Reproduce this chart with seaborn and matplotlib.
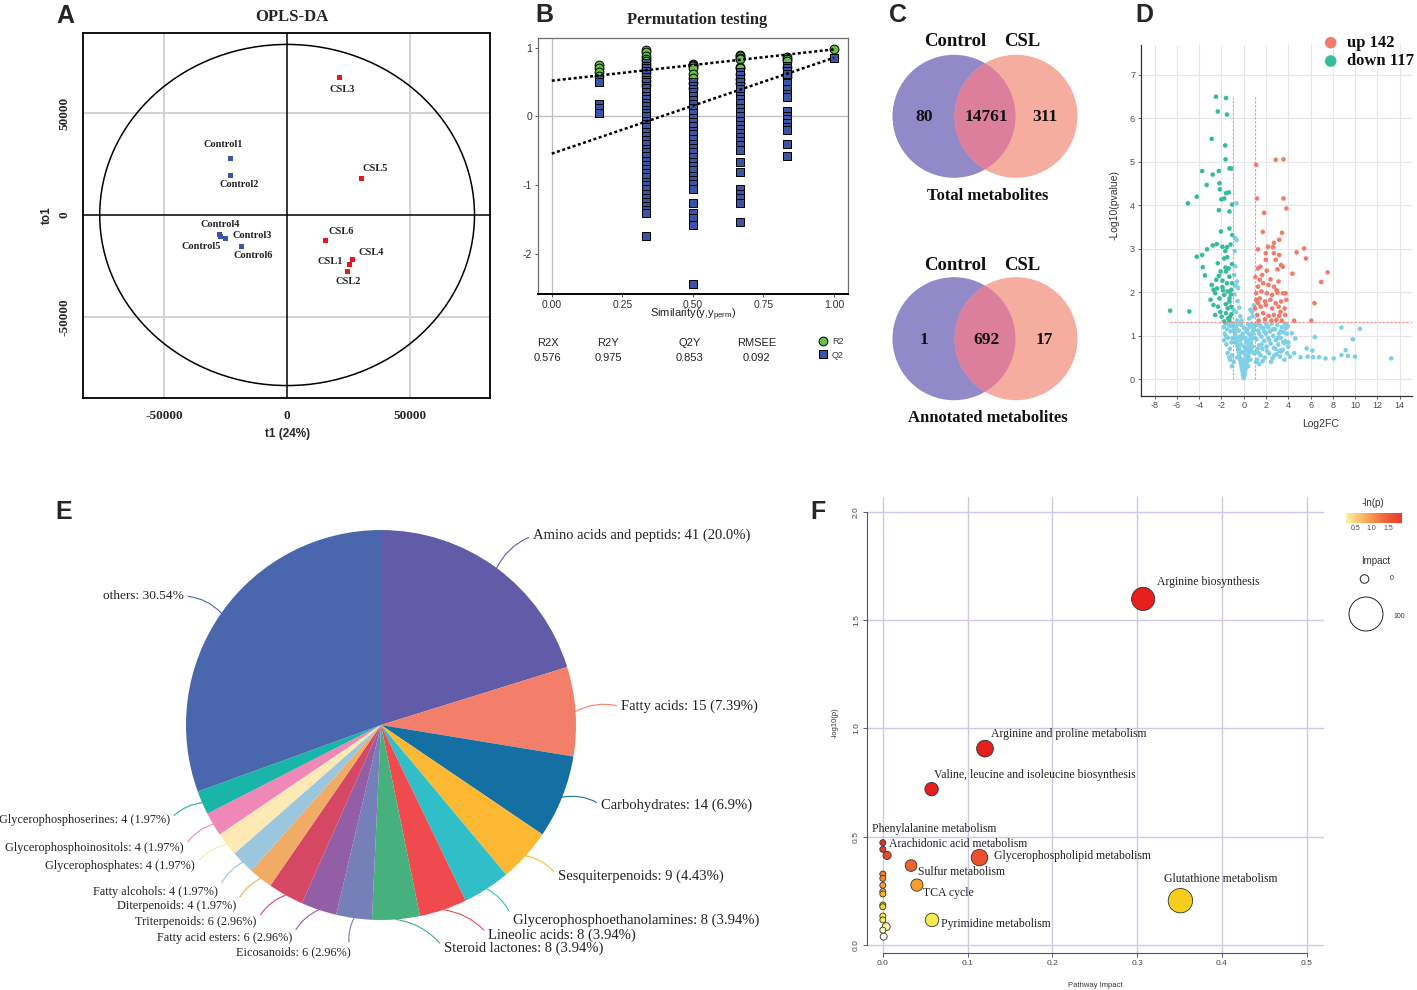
import numpy as np
import pandas as pd
import matplotlib
matplotlib.use("Agg")
import matplotlib.pyplot as plt
import seaborn as sns
from matplotlib.patches import Ellipse, Circle
from matplotlib.colors import LinearSegmentedColormap, Normalize

# ---------------- data ----------------
# A: OPLS-DA scores
opls_samples = ['Control1', 'Control2', 'Control3', 'Control4', 'Control5', 'Control6',
                'CSL1', 'CSL2', 'CSL3', 'CSL4', 'CSL5', 'CSL6']
opls_group = ['Control'] * 6 + ['CSL'] * 6
opls_t1 = [-23150, -22900, -24900, -27600, -26900, -18600,
           25300, 24500, 21500, 26650, 30300, 15500]
opls_to1 = [27500, 19300, -11400, -9550, -10700, -15650,
            -24400, -27700, 67400, -21600, 17950, -12350]
ellipse_semi = [76200, 83600]

# B: permutation test
perm_sim = [0.1667, 0.3333, 0.5, 0.6667, 0.8333, 1.0]
perm_r2 = [
    [0.75, 0.70, 0.64, 0.59],
    [0.96, 0.93, 0.88, 0.84, 0.80, 0.76, 0.72, 0.68, 0.63, 0.58, 0.52, 0.46],
    [0.77, 0.75, 0.73, 0.70, 0.62, 0.56, 0.49, 0.42],
    [0.90, 0.88, 0.85, 0.83, 0.72, 0.70, 0.62, 0.55, 0.48],
    [0.86, 0.84, 0.80, 0.72, 0.62, 0.58],
    [0.975],
]
perm_q2 = [
    [0.55, 0.50, 0.18, 0.12, 0.05],
    [0.78, 0.74, 0.71, 0.66, 0.62, 0.57, 0.53, 0.50, 0.45, 0.41, 0.36, 0.30, 0.25, 0.19,
     0.15, 0.09, 0.05, 0.0, -0.06, -0.11, -0.16, -0.22, -0.29, -0.34, -0.40, -0.47, -0.52,
     -0.58, -0.65, -0.70, -0.77, -0.82, -0.88, -0.95, -1.0, -1.06, -1.13, -1.18, -1.25,
     -1.30, -1.36, -1.41, -1.73],
    [0.50, 0.45, 0.40, 0.36, 0.30, 0.24, 0.18, 0.12, 0.05, -0.02, -0.08, -0.14, -0.21,
     -0.26, -0.33, -0.40, -0.46, -0.52, -0.59, -0.66, -0.72, -0.78, -0.86, -0.92, -0.98,
     -1.05, -1.26, -1.41, -1.47, -1.58, -2.43],
    [0.65, 0.60, 0.55, 0.50, 0.44, 0.40, 0.30, 0.25, 0.19, 0.13, 0.07, 0.0, -0.06, -0.12,
     -0.18, -0.24, -0.30, -0.36, -0.42, -0.48, -0.66, -0.80, -1.05, -1.12, -1.19, -1.26, -1.53],
    [0.74, 0.70, 0.66, 0.62, 0.48, 0.40, 0.33, 0.28, 0.08, 0.01, -0.04, -0.10, -0.15,
     -0.20, -0.40, -0.57],
    [0.853],
]
r2_intercept = 0.52
q2_intercept = -0.54
model_stats = ['R2X', 'R2Y', 'Q2Y', 'RMSEE']
model_values = ['0.576', '0.975', '0.853', '0.092']

# C: Venn counts (only Control, shared, only CSL)
venn_sets = ['Control', 'CSL']
venn_total = [80, 14761, 311]
venn_annot = [1, 692, 17]

# D: volcano
up_count = 142
down_count = 117
up_points = [
    (1.12, 4.93), (2.87, 5.05), (3.57, 5.06), (1.18, 4.16), (3.57, 4.16), (3.83, 3.93),
    (1.82, 3.83), (1.72, 3.39), (3.44, 3.37), (2.71, 3.14), (3.19, 3.21), (2.17, 3.05),
    (2.62, 3.04), (1.28, 2.99), (1.98, 2.90), (2.71, 2.90), (3.19, 2.86), (5.42, 3.01),
    (4.75, 2.92), (5.58, 2.78), (1.98, 2.75), (2.87, 2.75), (3.35, 2.63), (1.28, 2.55),
    (1.50, 2.59), (2.07, 2.50), (3.03, 2.53), (3.51, 2.59), (4.37, 2.43), (7.53, 2.46),
    (6.95, 2.24), (1.44, 2.29), (1.75, 2.21), (2.23, 2.17), (2.71, 2.13), (3.13, 2.25),
    (1.28, 2.13), (1.12, 1.98), (1.59, 2.02), (2.07, 1.98), (2.55, 1.94), (3.03, 1.99),
    (3.51, 1.98), (3.76, 1.98), (1.12, 1.83), (1.44, 1.86), (1.91, 1.79), (2.39, 1.83),
    (2.87, 1.75), (3.35, 1.79), (3.83, 1.83), (1.02, 1.63), (1.53, 1.67), (1.98, 1.71),
    (2.55, 1.63), (3.13, 1.67), (3.67, 1.63), (6.35, 1.75), (1.21, 1.48), (1.75, 1.52),
    (2.23, 1.46), (2.71, 1.48), (3.19, 1.46), (3.73, 1.48), (1.34, 1.35), (1.91, 1.38),
    (2.49, 1.35), (2.94, 1.37), (3.41, 1.35), (4.53, 1.35), (6.06, 1.35),
    (1.65, 2.40), (2.40, 2.30), (1.30, 1.75), (2.95, 2.05), (1.05, 2.35), (3.30, 1.55),
]
down_points = [
    (-2.49, 6.50), (-1.59, 6.47), (-2.33, 6.16), (-1.50, 6.09), (-2.87, 5.53), (-1.66, 5.38),
    (-1.63, 5.06), (-1.28, 4.85), (-1.12, 4.85), (-3.73, 4.79), (-2.78, 4.71), (-2.23, 4.79),
    (-3.32, 4.47), (-2.17, 4.51), (-2.14, 4.37), (-4.21, 4.20), (-5.01, 4.05), (-1.75, 4.16),
    (-2.01, 4.14), (-1.34, 4.30), (-1.59, 4.28), (-2.23, 3.89), (-1.05, 4.02), (-1.28, 3.86),
    (-1.28, 3.47), (-1.02, 3.32), (-2.42, 3.11), (-3.29, 2.99), (-2.78, 3.08), (-4.21, 2.82),
    (-3.73, 2.86), (-1.91, 3.05), (-1.50, 3.04), (-1.75, 2.78), (-1.47, 2.81), (-2.33, 2.67),
    (-1.63, 2.57), (-3.67, 2.58), (-3.48, 2.39), (-2.07, 2.48), (-1.59, 2.48), (-2.46, 2.29),
    (-2.23, 2.38), (-1.91, 2.27), (-1.28, 2.36), (-1.50, 2.21), (-1.02, 2.21), (-2.87, 2.17),
    (-2.71, 2.06), (-2.39, 2.09), (-1.91, 2.12), (-1.44, 2.02), (-1.12, 2.06), (-2.97, 1.83),
    (-2.55, 1.98), (-2.17, 1.86), (-1.75, 1.94), (-1.28, 1.86), (-2.71, 1.71), (-2.30, 1.67),
    (-1.59, 1.73), (-1.28, 1.79), (-1.44, 1.63), (-1.12, 1.67), (-2.55, 1.48), (-1.98, 1.44),
    (-1.59, 1.52), (-1.21, 1.44), (-6.60, 1.58), (-4.88, 1.56), (-1.75, 1.33), (-1.28, 1.35),
    (-1.15, 1.95), (-1.35, 2.55), (-1.05, 2.65), (-1.18, 3.10), (-2.05, 3.40), (-1.40, 1.40),
    (-2.10, 1.55), (-1.85, 2.05), (-1.10, 1.50), (-1.65, 2.95),
]
ns_points = [
    (0.00, 0.03), (0.05, 0.08), (-0.06, 0.10), (0.10, 0.14), (-0.10, 0.17), (0.14, 0.20),
    (-0.15, 0.24), (0.20, 0.27), (-0.20, 0.30), (0.25, 0.33), (-0.25, 0.37), (0.30, 0.40),
    (-0.30, 0.43), (0.35, 0.46), (-0.35, 0.50), (0.40, 0.52), (-0.40, 0.56), (0.45, 0.59),
    (-0.45, 0.62), (0.50, 0.65), (-0.50, 0.68), (0.55, 0.72), (-0.55, 0.75), (0.60, 0.78),
    (-0.60, 0.82), (0.65, 0.85), (-0.65, 0.88), (0.70, 0.92), (-0.70, 0.95), (0.75, 0.98),
    (-0.75, 1.02), (0.80, 1.05), (-0.80, 1.08), (0.85, 1.12), (-0.85, 1.15), (0.90, 1.18),
    (-0.90, 1.22), (0.95, 1.25), (-0.95, 1.28),
    (0.05, 0.30), (-0.05, 0.45), (0.15, 0.55), (-0.15, 0.62), (0.25, 0.70), (0.05, 0.75),
    (-0.25, 0.80), (0.35, 0.88), (0.15, 0.95), (-0.35, 0.98), (0.45, 1.05), (0.25, 1.10),
    (-0.45, 1.12), (0.55, 1.20), (0.05, 1.18), (-0.20, 1.25), (0.40, 1.27), (0.70, 1.28),
    (-0.55, 1.26), (0.20, 0.85), (-0.10, 1.05), (0.60, 1.00), (-0.70, 1.18),
    (0.30, 1.15), (0.50, 0.90), (0.80, 0.75), (1.00, 0.95), (0.90, 0.60), (1.10, 0.40),
    (0.60, 0.45), (0.40, 0.30), (-0.40, 0.70), (-0.60, 0.50), (-0.80, 0.85), (-1.00, 0.95),
    (-0.90, 0.40), (-0.30, 0.90), (0.10, 0.65), (-0.05, 0.95), (0.30, 0.50), (0.00, 0.25),
    (0.15, 0.38), (-0.15, 0.42), (0.45, 0.78), (0.70, 0.65),
    (1.05, 0.62), (1.15, 0.92), (1.22, 0.45), (1.30, 1.12), (1.38, 0.78), (1.45, 1.25),
    (1.52, 0.55), (1.60, 0.98), (1.68, 0.70), (1.75, 1.18), (1.82, 0.88), (1.90, 0.50),
    (1.98, 1.05), (2.05, 0.75), (2.12, 1.22), (2.20, 0.95), (2.28, 0.60), (2.35, 1.10),
    (2.42, 0.82), (2.50, 1.28), (2.58, 0.48), (2.65, 1.00), (2.72, 0.72), (2.80, 1.15),
    (2.88, 0.90), (2.95, 0.58), (3.02, 1.25), (3.10, 0.80), (3.18, 1.05), (3.26, 0.52),
    (3.34, 0.95), (3.42, 1.20), (3.50, 0.68), (3.58, 1.08), (3.66, 0.45), (3.74, 0.88),
    (3.82, 1.25), (3.90, 0.60), (1.10, 1.28), (1.40, 0.35), (1.70, 0.42), (2.00, 1.28),
    (2.45, 0.40), (1.25, 0.70), (1.55, 1.20),
    (1.20, 1.25), (1.35, 0.60), (1.60, 0.80), (1.85, 1.10), (2.10, 0.65), (2.30, 0.90),
    (2.60, 1.15), (2.85, 0.70), (3.05, 0.95), (3.30, 1.10), (3.55, 0.85), (3.70, 1.28),
    (1.40, 1.05), (2.20, 1.20), (2.75, 0.55), (3.20, 0.65), (3.85, 1.05), (4.00, 0.85),
    (3.95, 1.22),
    (-1.05, 0.55), (-1.10, 0.85), (-1.18, 1.10), (-1.25, 0.70), (-1.32, 1.25), (-1.40, 0.95),
    (-1.48, 1.15), (-1.55, 0.80), (-1.62, 1.28), (-1.70, 1.05), (-1.78, 1.20), (-1.05, 0.30),
    (-1.15, 1.22), (-1.30, 0.50), (-1.20, 0.45), (-1.45, 0.60), (-1.60, 1.00), (-1.75, 0.90),
    (-0.64, 4.05), (-0.64, 3.20), (-0.75, 3.25), (-0.80, 2.95), (-0.75, 2.60), (-0.60, 2.25),
    (-0.70, 2.15), (-0.50, 2.10), (-0.82, 1.95), (-0.55, 1.80), (-0.40, 1.65), (-0.70, 1.55),
    (-0.30, 1.45), (-0.90, 1.60), (0.60, 1.60), (0.80, 1.45), (0.90, 1.70), (0.50, 1.40),
    (0.75, 1.55), (-0.20, 1.35), (-0.85, 2.40), (-0.60, 1.35),
    (8.77, 1.19), (10.43, 1.16), (9.79, 0.92), (6.38, 0.97), (4.63, 0.94), (5.65, 0.71),
    (6.16, 0.66), (9.15, 0.67), (8.77, 0.56), (9.34, 0.54), (9.98, 0.52), (13.24, 0.48),
    (8.07, 0.48), (7.34, 0.48), (6.76, 0.51), (6.22, 0.51), (5.74, 0.52), (5.10, 0.51),
    (4.53, 0.60), (4.15, 0.52), (3.99, 0.75), (3.67, 0.83), (3.35, 0.64), (4.31, 1.06),
    (3.76, 1.17),
]
fc_cut = 1.0
p_cut = 1.31

# E: metabolite classes
pie_names = ['Amino acids and peptids', 'Fatty acids', 'Carbohydrates', 'Sesquiterpenoids',
             'Glycerophosphoethanolamines', 'Lineolic acids', 'Steroid lactones', 'Eicosanoids',
             'Fatty acid esters', 'Triterpenoids', 'Diterpenoids', 'Fatty alcohols',
             'Glycerophosphates', 'Glycerophosphoinositols', 'Glycerophosphoserines', 'others']
pie_counts = [41, 15, 14, 9, 8, 8, 8, 6, 6, 6, 4, 4, 4, 4, 4, 62]
pie_pct = ['20.0%', '7.39%', '6.9%', '4.43%', '3.94%', '3.94%', '3.94%', '2.96%',
           '2.96%', '2.96%', '1.97%', '1.97%', '1.97%', '1.97%', '1.97%', '30.54%']
pie_colors = ['#625ba8', '#f37f6b', '#146fa3', '#fdb833', '#30bfc9', '#ef4b4f', '#46b17c',
              '#7580b9', '#945ea6', '#d64764', '#f0ac64', '#9bc7de', '#fde9b3', '#f088b7',
              '#18b5a8', '#4a66ad']

# F: pathway analysis
path_names = ['Arginine biosynthesis', 'Arginine and proline metabolism',
              'Valine, leucine and isoleucine biosynthesis', 'Phenylalanine metabolism',
              'Arachidonic acid metabolism', 'Glycerophospholipid metabolism',
              'Sulfur metabolism', 'TCA cycle', 'Pyrimidine metabolism',
              'Glutathione metabolism',
              '', '', '', '', '', '', '', '', '', '', '', '', '']
path_impact = [0.307, 0.1205, 0.0575, 0.0, 0.0, 0.114, 0.0333, 0.0402, 0.058, 0.351,
               0.005, 0.0, 0.0, 0.0, 0.0, 0.0, 0.0, 0.0, 0.0, 0.0, 0.004, 0.0, 0.001]
path_logp = [1.598, 0.907, 0.720, 0.473, 0.442, 0.404, 0.367, 0.277, 0.116, 0.205,
             0.414, 0.328, 0.308, 0.276, 0.247, 0.236, 0.185, 0.177, 0.134, 0.116,
             0.085, 0.069, 0.039]

# ---------------- layout helpers ----------------
W, H = 1417, 990
PT = 0.72  # points per pixel at dpi 100
SERIF = ['Liberation Serif', 'DejaVu Serif']


def box(l, t, r, b):
    return [l / W, 1 - b / H, (r - l) / W, (b - t) / H]


sns.set_style("white")
plt.rcParams['font.family'] = ['Liberation Sans', 'DejaVu Sans']
plt.rcParams['mathtext.fontset'] = 'custom'
plt.rcParams['mathtext.rm'] = 'Liberation Sans'
plt.rcParams['mathtext.it'] = 'Liberation Sans'
plt.rcParams['axes.unicode_minus'] = False

fig = plt.figure(figsize=(W / 100, H / 100), dpi=100)
fig.patch.set_facecolor('white')

# ---------------- A ----------------
axA = fig.add_axes(box(83, 33, 490, 398))
dfA = pd.DataFrame({'sample': opls_samples, 'group': opls_group, 't1': opls_t1, 'to1': opls_to1})
for v in (-50000, 50000):
    axA.axvline(v, color='#cfcfcf', lw=1.3, zorder=0)
    axA.axhline(v, color='#cfcfcf', lw=1.3, zorder=0)
axA.axvline(0, color='black', lw=1.1, zorder=1)
axA.axhline(0, color='black', lw=1.1, zorder=1)
axA.add_patch(Ellipse((0, 0), 2 * ellipse_semi[0], 2 * ellipse_semi[1],
                      fill=False, ec='black', lw=1.1, zorder=2))
sns.scatterplot(data=dfA, x='t1', y='to1', hue='group', marker='s', s=13,
                palette={'Control': '#3a55ad', 'CSL': '#e8161d'}, edgecolor='none',
                legend=False, ax=axA, zorder=3)
label_off = {'Control1': (-6.7, 14.3), 'Control2': (8.3, -8.7), 'Control3': (26, 3),
             'Control4': (0.7, 9.7), 'Control5': (-19.3, -9.7), 'Control6': (12, -9),
             'CSL1': (-19.3, 3.7), 'CSL2': (1, -10), 'CSL3': (2, -11.7),
             'CSL4': (19, 7), 'CSL5': (13.7, 10), 'CSL6': (16.3, 8.7)}
for _, r in dfA.iterrows():
    dx, dy = label_off[r['sample']]
    axA.annotate(r['sample'], (r['t1'], r['to1']), xytext=(dx * PT, dy * PT),
                 textcoords='offset points', ha='center', va='center',
                 fontsize=7.5, fontweight='bold', family=SERIF, color='#222222')
axA.set_xlim(-83000, 82500)
axA.set_ylim(-89700, 89200)
axA.set_xticks([-50000, 0, 50000])
axA.set_yticks([-50000, 0, 50000])
axA.set_xticklabels(['-50000', '0', '50000'])
axA.set_yticklabels(['-50000', '0', '50000'], rotation=90, va='center')
axA.tick_params(length=0, pad=9, labelsize=9.5)
for lab in axA.get_xticklabels() + axA.get_yticklabels():
    lab.set_fontfamily(SERIF)
    lab.set_fontweight('bold')
axA.set_xlabel('')
axA.set_ylabel('')
for s in axA.spines.values():
    s.set_color('black')
    s.set_linewidth(1.3)

# ---------------- B ----------------
axB = fig.add_axes(box(537.7, 37.7, 848, 294))
rows = []
for x, r2s, q2s in zip(perm_sim, perm_r2, perm_q2):
    rows += [(x, v, 'R2') for v in r2s]
    rows += [(x, v, 'Q2') for v in q2s]
dfB = pd.DataFrame(rows, columns=['sim', 'value', 'stat'])
axB.axhline(0, color='#bdbdbd', lw=0.9, zorder=0)
axB.axvline(0, color='#bdbdbd', lw=0.9, zorder=0)
sns.scatterplot(data=dfB[dfB.stat == 'R2'], x='sim', y='value', marker='o', s=40,
                color='#66c043', edgecolor='black', linewidth=0.7, ax=axB, zorder=2)
sns.scatterplot(data=dfB[dfB.stat == 'Q2'], x='sim', y='value', marker='s', s=32,
                color='#3b54a5', edgecolor='black', linewidth=0.7, ax=axB, zorder=3)
axB.plot([0, perm_sim[-1]], [r2_intercept, perm_r2[-1][0]], color='black', lw=1.8,
         ls=(0, (1.2, 1.0)), zorder=4)
axB.plot([0, perm_sim[-1]], [q2_intercept, perm_q2[-1][0]], color='black', lw=1.8,
         ls=(0, (1.2, 1.0)), zorder=4)
axB.set_xlim(-0.05, 1.05)
axB.set_ylim(-2.58, 1.145)
axB.set_xticks([0, 0.25, 0.5, 0.75, 1.0])
axB.set_xticklabels(['0.00', '0.25', '0.50', '0.75', '1.00'])
axB.set_yticks([1, 0, -1, -2])
axB.tick_params(length=2.5, width=0.6, pad=1.5, labelsize=7.5, colors='#333333',
                direction='out', bottom=True, left=True)
axB.set_xlabel('')
axB.set_ylabel('')
for s in axB.spines.values():
    s.set_color('#6f6f6f')
    s.set_linewidth(0.9)
axB.spines['bottom'].set_color('black')
axB.spines['bottom'].set_linewidth(1.4)

# ---------------- D ----------------
axD = fig.add_axes(box(1140.6, 45, 1412, 395.7))
dfD = pd.concat([
    pd.DataFrame(ns_points, columns=['lfc', 'p']).assign(kind='ns'),
    pd.DataFrame(down_points, columns=['lfc', 'p']).assign(kind='down'),
    pd.DataFrame(up_points, columns=['lfc', 'p']).assign(kind='up'),
])
sns.scatterplot(data=dfD, x='lfc', y='p', hue='kind',
                palette={'ns': '#7fd0e6', 'down': '#35bc9c', 'up': '#f47a6a'},
                s=11, edgecolor='none', legend=False, ax=axD, zorder=3)
sig_max = max(p for _, p in up_points + down_points)
sig_min_x = min(x for x, _ in down_points)
axD.vlines([-fc_cut, fc_cut], 0, sig_max, colors='#f38a80', lw=0.8,
           linestyles=(0, (2, 1.6)), zorder=4)
axD.hlines(p_cut, sig_min_x, 15.1, colors='#f38a80', lw=0.8,
           linestyles=(0, (2, 1.6)), zorder=4)
axD.set_xlim(-9.25, 15.1)
axD.set_ylim(-0.377, 7.69)
axD.set_xticks(np.arange(-8, 15, 2))
axD.set_yticks(np.arange(0, 8, 1))
axD.grid(True, color='#e6e6e6', lw=0.8)
axD.set_axisbelow(True)
axD.tick_params(length=2.5, width=0.6, pad=1.5, labelsize=6.5, colors='#4d4d4d',
                direction='out', bottom=True, left=True)
axD.set_xlabel('')
axD.set_ylabel('')
axD.spines['top'].set_visible(False)
axD.spines['right'].set_visible(False)
for k in ('left', 'bottom'):
    axD.spines[k].set_color('#333333')
    axD.spines[k].set_linewidth(0.9)

# ---------------- E ----------------
axE = fig.add_axes(box(0, 485, 762, 965))
R = 195.0
wedges, _ = axE.pie(pie_counts, colors=pie_colors, startangle=90, counterclock=False,
                    radius=1.0, wedgeprops=dict(linewidth=0))
axE.set_aspect('auto')
axE.set_xlim(-381 / R, 381 / R)
axE.set_ylim(-240 / R, 240 / R)
pie_label_px = [(533, 535.7), (621, 706.7), (601, 805), (557.7, 876.7), (512.8, 920),
                (488, 935), (444, 948.3), (351, 952.7), (292, 937.7), (256.6, 921.7),
                (236, 905.7), (218, 891.7), (195, 865.7), (183.7, 848.3), (170, 820),
                (183.7, 596)]
for w, name, cnt, pct, (px, py) in zip(wedges, pie_names, pie_counts, pie_pct, pie_label_px):
    text = f'{name}: {pct}' if name == 'others' else f'{name}: {cnt} ({pct})'
    ang = np.deg2rad((w.theta1 + w.theta2) / 2)
    tx, ty = (px - 381) / R, (725 - py) / R
    ha = 'left' if tx > 0 else 'right'
    fs = 10.5 if ha == 'left' else (9.6 if name == 'others' else 8.8)
    axE.annotate(text, xy=(np.cos(ang), np.sin(ang)), xytext=(tx, ty), ha=ha, va='center',
                 fontsize=fs, family=SERIF, color='#222222', annotation_clip=False,
                 arrowprops=dict(arrowstyle='-', color=w.get_facecolor(), lw=0.8,
                                 shrinkA=1, shrinkB=0, relpos=(0 if ha == 'left' else 1, 0.5),
                                 connectionstyle='arc3,rad=0.2' if ha == 'left' else 'arc3,rad=-0.2'))

# ---------------- F ----------------
axF = fig.add_axes(box(866.9, 496.7, 1323.7, 953.3))
heat = LinearSegmentedColormap.from_list('heat', [
    (0, '#ffffff'), (0.1, '#fff6b8'), (0.18, '#f3ea4e'), (0.35, '#f7d41a'),
    (0.5, '#f8a52c'), (0.7, '#ef6a30'), (0.88, '#e9392a'), (1.0, '#e41f1e')])
norm = Normalize(0.03, 0.5, clip=True)
dfF = pd.DataFrame({'name': path_names, 'impact': path_impact, 'logp': path_logp})
dfF['diam'] = 6 + 31 * np.sqrt(dfF['impact'])
dfF = dfF.sort_values('diam', ascending=False)
axF.scatter(dfF['impact'], dfF['logp'], s=(dfF['diam'] * PT) ** 2,
            c=[heat(norm(v)) for v in dfF['logp']], edgecolors='#333333', linewidths=0.6, zorder=3)
path_off = {'Arginine biosynthesis': (13.4, 17.1), 'Arginine and proline metabolism': (5.8, 14.5),
            'Valine, leucine and isoleucine biosynthesis': (2.8, 14.6),
            'Phenylalanine metabolism': (-10.8, 13.4), 'Arachidonic acid metabolism': (6.6, 5.4),
            'Glycerophospholipid metabolism': (14.5, 1.3), 'Sulfur metabolism': (6.6, -6.1),
            'TCA cycle': (6.1, -7.6), 'Pyrimidine metabolism': (8.5, -4.4),
            'Glutathione metabolism': (-16.2, 21.4)}
for _, r in dfF[dfF['name'] != ''].iterrows():
    dx, dy = path_off[r['name']]
    axF.annotate(r['name'], (r['impact'], r['logp']), xytext=(dx * PT, dy * PT),
                 textcoords='offset points', ha='left', va='center', fontsize=8.5,
                 family=SERIF, color='#222222', zorder=5)
axF.set_xlim(-0.0188, 0.52)
axF.set_ylim(-0.038, 2.07)
axF.set_xticks([0, 0.1, 0.2, 0.3, 0.4, 0.5])
axF.set_yticks([0, 0.5, 1.0, 1.5, 2.0])
axF.set_yticklabels(['0.0', '0.5', '1.0', '1.5', '2.0'], rotation=90, va='center')
axF.grid(True, color='#c9c9ec', lw=1.0)
axF.set_axisbelow(True)
axF.tick_params(length=3, width=0.6, pad=2, labelsize=6, colors='#444444',
                direction='out', bottom=True, left=True)
axF.spines['top'].set_visible(False)
axF.spines['right'].set_visible(False)
axF.spines['left'].set_bounds(0, 2.0)
axF.spines['bottom'].set_bounds(0, 0.5)
for k in ('left', 'bottom'):
    axF.spines[k].set_color('#555555')
    axF.spines[k].set_linewidth(0.8)

axCb = fig.add_axes(box(1345.7, 512.7, 1401, 523.3))
cb_cmap = LinearSegmentedColormap.from_list('cb', ['#fff1a6', '#f9b25a', '#f06a3c', '#ec3a2c'])
axCb.imshow(np.linspace(0, 1, 256)[None, :], cmap=cb_cmap, aspect='auto',
            extent=[0.2, 1.9, 0, 1])
axCb.set_xticks([0.5, 1.0, 1.5])
axCb.set_xticklabels(['0.5', '1.0', '1.5'])
axCb.set_yticks([])
axCb.tick_params(length=0, pad=1.5, labelsize=5, colors='#444444')
for s in axCb.spines.values():
    s.set_visible(False)

# ---------------- overlay: panel letters, titles, venn, legends ----------------
ov = fig.add_axes([0, 0, 1, 1])
ov.set_xlim(0, W)
ov.set_ylim(H, 0)
ov.axis('off')
ov.patch.set_alpha(0)

for letter, (x, y) in zip('ABCDEF', [(65, 16), (544, 15), (898, 15), (1144, 15), (64, 512), (818, 512)]):
    ov.text(x, y, letter, fontsize=18, fontweight='bold', ha='center', va='center')

ov.text(291.7, 17, 'OPLS-DA', fontsize=12, fontweight='bold', family=SERIF, ha='center', va='center')
ov.text(47, 215, 'to1', fontsize=8.5, fontweight='bold', rotation=90, ha='center', va='center')
ov.text(288, 434, 't1 (24%)', fontsize=8.5, fontweight='bold', ha='center', va='center')

ov.text(697, 20, 'Permutation testing', fontsize=12, fontweight='bold', family=SERIF,
        ha='center', va='center')
ov.text(693, 315, r'Similarity(y,y$_{\mathrm{perm}}$)', fontsize=8, color='#222222',
        ha='center', va='center')
for name, val, x in zip(model_stats, model_values, [547.7, 608.3, 690, 756.7]):
    ov.text(x, 343.3, name, fontsize=8, ha='center', va='center', color='#222222')
    ov.text(x, 357.7, val, fontsize=8, ha='center', va='center', color='#222222')
ov.scatter([822.7], [340.7], s=40, marker='o', color='#66c043', edgecolor='black', linewidth=0.7)
ov.scatter([822.7], [354], s=26, marker='s', color='#3b54a5', edgecolor='black', linewidth=0.7)
ov.text(832, 341.7, 'R2', fontsize=6.5, va='center', color='#333333')
ov.text(832, 355, 'Q2', fontsize=6.5, va='center', color='#333333')

# Venn diagrams
for (cy, counts, title, ty, sy) in [(116.3, venn_total, 'Total metabolites', 196, 41),
                                     (338.7, venn_annot, 'Annotated metabolites', 418, 265)]:
    left = Circle((954, cy), 61.5, color='#9189c8', lw=0)
    ov.add_patch(left)
    ov.add_patch(Circle((1016, cy), 61.5, color='#f5ada0', lw=0))
    mid = Circle((1016, cy), 61.5, color='#dc7f9c', lw=0)
    ov.add_patch(mid)
    mid.set_clip_path(left)
    for cnt, x in zip(counts, [924, 986.5, 1044.7]):
        ov.text(x, cy + 1, str(cnt), fontsize=12.5, fontweight='bold', family=SERIF,
                ha='center', va='center', color='#111111')
    ov.text(955.5, sy, venn_sets[0], fontsize=13.5, fontweight='bold', family=SERIF,
            ha='center', va='center', color='#111111')
    ov.text(1022.5, sy, venn_sets[1], fontsize=13.5, fontweight='bold', family=SERIF,
            ha='center', va='center', color='#111111')
    ov.text(988, ty, title, fontsize=12, fontweight='bold', family=SERIF,
            ha='center', va='center', color='#111111')

# volcano labels and legend
ov.text(1115, 205, '-Log10(pvalue)', fontsize=7.5, rotation=90, ha='center', va='center', color='#333333')
ov.text(1320.6, 424, 'Log2FC', fontsize=7.5, ha='center', va='center', color='#333333')
ov.scatter([1330.7], [42.7], s=70, color='#f47a6a', edgecolor='none')
ov.scatter([1330.7], [61], s=70, color='#35bc9c', edgecolor='none')
ov.text(1346.7, 42.7, f'up {up_count}', fontsize=12, fontweight='bold',
        family=SERIF, va='center', color='#111111')
ov.text(1346.7, 61, f'down {down_count}', fontsize=12, fontweight='bold',
        family=SERIF, va='center', color='#111111')

# pathway legend
ov.text(835, 723, '-log10(p)', fontsize=5.5, rotation=90, ha='center', va='center', color='#333333')
ov.text(1095.3, 985.7, 'Pathway Impact', fontsize=5.5, ha='center', va='center', color='#333333')
ov.text(1373, 503.3, '-ln(p)', fontsize=7, ha='center', va='center', color='#333333')
ov.text(1376, 561, 'Impact', fontsize=7, ha='center', va='center', color='#333333')
ov.add_patch(Circle((1364.5, 579), 4.3, fill=False, ec='#222222', lw=0.7))
ov.add_patch(Circle((1366, 614), 17, fill=False, ec='#222222', lw=0.7))
ov.text(1391.7, 578.3, '0', fontsize=5, ha='center', va='center', color='#333333')
ov.text(1399, 616.7, '100', fontsize=5, ha='center', va='center', color='#333333')

fig.savefig('out.png', dpi=100)
